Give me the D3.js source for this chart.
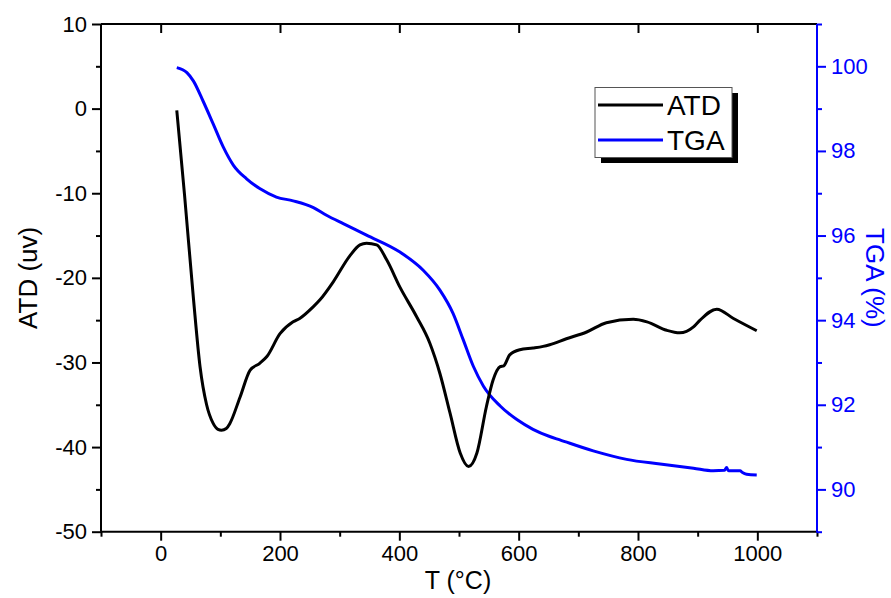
<!DOCTYPE html>
<html><head><meta charset="utf-8">
<script src="https://cdn.jsdelivr.net/npm/d3@7"></script>
<style>body{margin:0;background:#fff}svg{display:block}text{font-family:"Liberation Sans",Arial,sans-serif}</style>
</head><body><svg id="c" width="891" height="598"></svg>
<script>
const atdT = [27,40,55,66,77,88,96,102,110,116,133,150,166,178,200,222,233,256,267,289,317,334,345,362,379,401,429,451,468,485,502,516,530,546,557,569,575,585,602,624,641,652,680,714,747,792,815,848,870,893,904,932,960,999];
const atdV = [-0.2,-10.2,-22.5,-30.5,-35.0,-37.2,-37.9,-38.0,-37.8,-37.2,-34.1,-30.9,-30.1,-29.3,-26.6,-25.2,-24.8,-23.4,-22.6,-20.5,-17.4,-16.1,-15.9,-16.1,-17.9,-21.1,-24.6,-27.7,-31.3,-36.0,-40.7,-42.3,-40.7,-35.2,-32.1,-30.5,-30.4,-29.1,-28.5,-28.3,-28.1,-27.9,-27.2,-26.4,-25.3,-24.9,-25.2,-26.2,-26.5,-25.8,-25.0,-23.7,-24.8,-26.25];
const tgaT = [27,44,55,71,88,105,122,144,166,194,222,256,278,306,345,401,440,468,490,507,524,541,569,597,624,652,669,725,781,837,893,926,945,948.5,951,954,971,975,982,999];
const tgaV = [99.97,99.85,99.65,99.18,98.64,98.09,97.66,97.34,97.11,96.91,96.82,96.66,96.48,96.28,96.01,95.61,95.18,94.71,94.16,93.54,92.91,92.44,91.97,91.65,91.42,91.25,91.17,90.91,90.71,90.60,90.50,90.44,90.45,90.52,90.45,90.44,90.44,90.40,90.36,90.34];
const xTicks = [0,200,400,600,800,1000];
const yLeftTicks = [-50,-40,-30,-20,-10,0,10];
const yRightTicks = [90,92,94,96,98,100];
const legendNames = ["ATD","TGA"];
const colors = ["#000000","#0000ff"];

const svg = d3.select("#c");
const L=101,R=817,T=24,B=531.7;
const x = d3.scaleLinear().domain([-100,1100]).range([L,R]);
const yL = d3.scaleLinear().domain([-50,10]).range([B,T]);
const yR = d3.scaleLinear().domain([89,101]).range([B,T]);
const fmt = d => String(d);

function styleAxis(g,color){
  g.select(".domain").remove();
  g.selectAll(".tick line").attr("stroke",color).attr("stroke-width",2);
  g.selectAll(".tick text").attr("fill",color).attr("font-size",22);
}
function minor(g,axis,vals,color){
  g.call(axis.tickValues(vals).tickFormat("").tickSize(5).tickSizeOuter(0));
  g.select(".domain").remove();
  g.selectAll(".tick line").attr("stroke",color).attr("stroke-width",2);
}
const minX = d3.range(-100,1101,200);
const minYL = d3.range(-45,10,10);
const minYR = d3.range(89,101.1,2);

svg.append("g").attr("transform",`translate(0,${B})`).call(g=>minor(g,d3.axisBottom(x),minX,"#000"));
svg.append("g").attr("transform",`translate(${L},0)`).call(g=>minor(g,d3.axisLeft(yL),minYL,"#000"));
svg.append("g").attr("transform",`translate(${R},0)`).call(g=>minor(g,d3.axisRight(yR),minYR,"#0000ff"));

const gx = svg.append("g").attr("transform",`translate(0,${B})`)
  .call(d3.axisBottom(x).tickValues(xTicks).tickSize(9).tickSizeOuter(0).tickPadding(5).tickFormat(fmt));
styleAxis(gx,"#000");
const gt = svg.append("g").attr("transform",`translate(0,${T})`)
  .call(d3.axisBottom(x).tickValues(xTicks).tickSize(9).tickSizeOuter(0).tickFormat(""));
styleAxis(gt,"#000");
const gl = svg.append("g").attr("transform",`translate(${L},0)`)
  .call(d3.axisLeft(yL).tickValues(yLeftTicks).tickSize(9).tickSizeOuter(0).tickPadding(5).tickFormat(fmt));
styleAxis(gl,"#000");
const gr = svg.append("g").attr("transform",`translate(${R},0)`)
  .call(d3.axisRight(yR).tickValues(yRightTicks).tickSize(9).tickSizeOuter(0).tickPadding(5).tickFormat(fmt));
styleAxis(gr,"#0000ff");
svg.append("line").attr("x1",L).attr("x2",R).attr("y1",B).attr("y2",B).attr("stroke","#000").attr("stroke-width",2);
svg.append("line").attr("x1",L).attr("x2",R).attr("y1",T).attr("y2",T).attr("stroke","#000").attr("stroke-width",2);
svg.append("line").attr("x1",L).attr("x2",L).attr("y1",T).attr("y2",B).attr("stroke","#000").attr("stroke-width",2);
svg.append("line").attr("x1",R).attr("x2",R).attr("y1",T).attr("y2",B+1).attr("stroke","#0000ff").attr("stroke-width",2);

const atd = atdT.map((t,i)=>[t,atdV[i]]);
const tga = tgaT.map((t,i)=>[t,tgaV[i]]);
svg.append("path").datum(tga).attr("fill","none").attr("stroke",colors[1]).attr("stroke-width",3)
  .attr("d",d3.line().x(d=>x(d[0])).y(d=>yR(d[1])).curve(d3.curveMonotoneX));
svg.append("path").datum(atd).attr("fill","none").attr("stroke",colors[0]).attr("stroke-width",3)
  .attr("d",d3.line().x(d=>x(d[0])).y(d=>yL(d[1])).curve(d3.curveMonotoneX));

svg.append("text").attr("transform",`translate(37,${(T+B)/2}) rotate(-90)`).attr("text-anchor","middle").attr("font-size",26).attr("fill","#000").text("ATD (uv)");
svg.append("text").attr("x",458).attr("y",589).attr("text-anchor","middle").attr("font-size",25).attr("fill","#000").text("T (°C)");
svg.append("text").attr("transform",`translate(866,${(T+B)/2}) rotate(90)`).attr("text-anchor","middle").attr("font-size",26).attr("fill","#0000ff").text("TGA (%)");

const lg = svg.append("g");
lg.append("rect").attr("x",601).attr("y",93).attr("width",137).attr("height",70).attr("fill","#000");
lg.append("rect").attr("x",595).attr("y",87.5).attr("width",137).attr("height",70).attr("fill","#fff").attr("stroke","#555").attr("stroke-width",1);
legendNames.forEach((n,i)=>{
  const yy = 105 + i*35;
  lg.append("line").attr("x1",598).attr("x2",663).attr("y1",yy).attr("y2",yy).attr("stroke",colors[i]).attr("stroke-width",3);
  lg.append("text").attr("x",667).attr("y",yy+10).attr("font-size",28).attr("fill","#000").text(n);
});
</script></body></html>
